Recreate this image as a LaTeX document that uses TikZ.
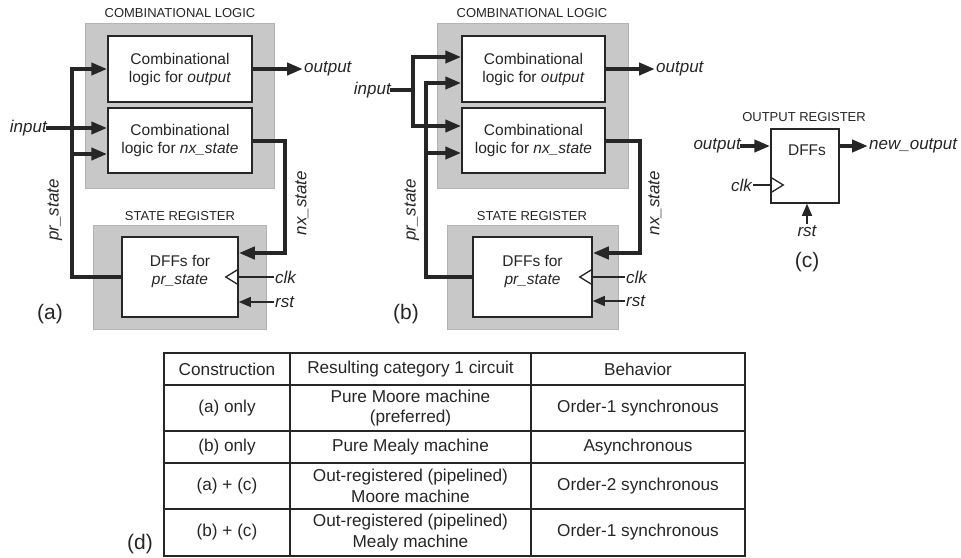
\documentclass[tikz,border=0pt]{standalone}
\usepackage{fontspec}
\setmainfont{Liberation Sans}
\usetikzlibrary{arrows.meta}
\definecolor{ink}{RGB}{38,38,38}
\definecolor{panel}{RGB}{200,200,200}
\definecolor{panelline}{RGB}{180,180,180}
\begin{document}
\begin{tikzpicture}[x=1pt,y=-1pt,
 graybox/.style={fill=panel, draw=panelline, line width=1pt},
 blk/.style={draw=ink, fill=white, line width=1.5pt, inner sep=0pt, align=center, text=ink, font=\fontsize{15.5}{18}\selectfont},
 bus/.style={draw=ink, line width=4pt, line cap=rect, -{Triangle[length=16pt,width=12pt]}},
 busn/.style={draw=ink, line width=4pt, line cap=rect},
 thinl/.style={draw=ink, line width=1.3pt},
 thinarr/.style={draw=ink, line width=1.3pt, -{Triangle[length=12pt,width=10pt]}},
 sig/.style={font=\fontsize{17}{18}\selectfont\itshape, inner sep=1pt, text=ink},
 ttl/.style={font=\fontsize{13}{15}\selectfont, inner sep=0pt, text=ink},
 plab/.style={font=\fontsize{21}{24}\selectfont, inner sep=0pt, text=ink},
 cell/.style={font=\fontsize{17.2}{20.5}\selectfont, align=center, inner sep=0pt, text=ink},
 tbl/.style={draw=ink, line width=1.3pt}]
\useasboundingbox (0,0) rectangle (961,557);

% ---------------- (a) ----------------
\draw[graybox] (85,23) rectangle (274,188);
\draw[graybox] (93,225) rectangle (266,329);
\node[ttl] (ta) at (180,13) {COMBINATIONAL LOGIC};
\node[ttl] (sa) at (180,216) {STATE REGISTER};
\node[blk, minimum width=144pt, minimum height=66pt] (oa) at (180,69) {Combinational\\logic for \textit{output}};
\node[blk, minimum width=144pt, minimum height=65pt] (na) at (180,140.5) {Combinational\\logic for \textit{nx\_state}};
\node[blk, minimum width=116pt, minimum height=80pt] (da) at (180,277) {DFFs for\\\textit{pr\_state}\\[-4pt]};
\node[sig, anchor=east] (ina) at (48,128) {input};
\draw[bus] (ina.east) -- (ina.east -| na.west);
\coordinate (pa) at (72,0);
\draw[bus] (da.west) -- (da.west -| pa) -- (oa.west -| pa) -- (oa.west);
\draw[bus] ([yshift=-13.5pt]na.west -| pa) -- ([yshift=-13.5pt]na.west);
\node[sig, anchor=west] (outa) at (303,69) {output};
\draw[bus] (oa.east) -- (outa.west);
\coordinate (nxa) at (285,0);
\draw[bus] (na.east) -- (na.east -| nxa) -- ([yshift=24pt]da.east -| nxa) -- ([yshift=24pt]da.east);
\node[sig, rotate=90] (nxla) at (302,203) {nx\_state};
\node[sig, rotate=90] (prla) at (55,210) {pr\_state};
\node[sig, anchor=west] (clka) at (274,277) {clk};
\draw[thinl] ([yshift=8pt]da.east) -- ++(-13pt,-8pt) -- ++(13pt,-8pt);
\draw[thinl] (da.east) -- (clka.west);
\node[sig, anchor=west] (rsta) at (274,302) {rst};
\draw[thinarr] (rsta.west) -- (rsta.west -| da.east);
\node[plab] (la) at (50,314) {(a)};

% ---------------- (b) ----------------
\draw[graybox] (437,23) rectangle (628,188);
\draw[graybox] (447,225) rectangle (618,329);
\node[ttl] (tb) at (532,13) {COMBINATIONAL LOGIC};
\node[ttl] (sb) at (532,216) {STATE REGISTER};
\node[blk, minimum width=143pt, minimum height=66pt] (ob) at (533.5,69) {Combinational\\logic for \textit{output}};
\node[blk, minimum width=143pt, minimum height=65pt] (nb) at (533.5,140.5) {Combinational\\logic for \textit{nx\_state}};
\node[blk, minimum width=119pt, minimum height=80pt] (db) at (532.5,277) {DFFs for\\\textit{pr\_state}\\[-4pt]};
\node[sig, anchor=east] (inb) at (392,90) {input};
\coordinate (jb) at (413,0);
\draw[busn] (inb.east) -- (inb.east -| jb);
\draw[bus] ([yshift=14.5pt]nb.west -| jb) -- ([yshift=12pt]ob.west -| jb) -- ([yshift=12pt]ob.west);
\draw[bus] ([yshift=14.5pt]nb.west -| jb) -- ([yshift=14.5pt]nb.west);
\coordinate (pb) at (426,0);
\draw[bus] (db.west) -- (db.west -| pb) -- ([yshift=-14pt]ob.west -| pb) -- ([yshift=-14pt]ob.west);
\draw[bus] ([yshift=-12.5pt]nb.west -| pb) -- ([yshift=-12.5pt]nb.west);
\node[sig, anchor=west] (outb) at (655,69) {output};
\draw[bus] (ob.east) -- (outb.west);
\coordinate (nxb) at (640,0);
\draw[bus] (nb.east) -- (nb.east -| nxb) -- ([yshift=24pt]db.east -| nxb) -- ([yshift=24pt]db.east);
\node[sig, rotate=90] (nxlb) at (655,203) {nx\_state};
\node[sig, rotate=90] (prlb) at (412,210) {pr\_state};
\node[sig, anchor=west] (clkb) at (625,277) {clk};
\draw[thinl] ([yshift=8pt]db.east) -- ++(-13pt,-8pt) -- ++(13pt,-8pt);
\draw[thinl] (db.east) -- (clkb.west);
\node[sig, anchor=west] (rstb) at (625,301) {rst};
\draw[thinarr] (rstb.west) -- (rstb.west -| db.east);
\node[plab] (lb) at (406,314) {(b)};

% ---------------- (c) ----------------
\node[ttl] (tc) at (804,117) {OUTPUT REGISTER};
\node[blk, minimum width=68pt, minimum height=74pt] (dc) at (805,166) {};
\node[font=\fontsize{15.5}{18}\selectfont, text=ink] (dct) at (807,150) {DFFs};
\node[sig, anchor=east] (oc) at (742,146) {output};
\draw[bus] (oc.east) -- (oc.east -| dc.west);
\node[sig, anchor=west] (noc) at (868,146) {new\_output};
\draw[bus] (oc.east -| dc.east) -- (noc.west);
\node[sig, anchor=east] (cc) at (753,185) {clk};
\draw[thinl] (cc.east) -- (cc.east -| dc.west);
\draw[thinl] ([yshift=8pt]cc.east -| dc.west) -- ++(13pt,-8pt) -- ++(-13pt,-8pt);
\node[sig, anchor=north] (rc) at (807,224) {rst};
\draw[thinarr] (rc.north) -- (rc.north |- dc.south);
\node[plab] (lc) at (807,262) {(c)};

% ---------------- (d) table ----------------
\draw[tbl] (164,353) rectangle (745,556);
\foreach \yy in {385,431,463,509} \draw[tbl] (164,\yy) -- (745,\yy);
\draw[tbl] (290,353) -- (290,556);
\draw[tbl] (531,353) -- (531,556);
\node[cell] (h1) at (227,369) {Construction};
\node[cell] (h2) at (410.5,369) {Resulting category 1 circuit};
\node[cell] (h3) at (638,369) {Behavior};
\node[cell] (r1a) at (227,408) {(a) only};
\node[cell] (r1b) at (410.5,408) {Pure Moore machine\\(preferred)};
\node[cell] (r1c) at (638,408) {Order-1 synchronous};
\node[cell] (r2a) at (227,447) {(b) only};
\node[cell] (r2b) at (410.5,447) {Pure Mealy machine};
\node[cell] (r2c) at (638,447) {Asynchronous};
\node[cell] (r3a) at (227,486) {(a) + (c)};
\node[cell] (r3b) at (410.5,486) {Out-registered (pipelined)\\Moore machine};
\node[cell] (r3c) at (638,486) {Order-2 synchronous};
\node[cell] (r4a) at (227,532.5) {(b) + (c)};
\node[cell] (r4b) at (410.5,532.5) {Out-registered (pipelined)\\Mealy machine};
\node[cell] (r4c) at (638,532.5) {Order-1 synchronous};
\node[plab] (ld) at (140,544) {(d)};
\end{tikzpicture}
\end{document}
